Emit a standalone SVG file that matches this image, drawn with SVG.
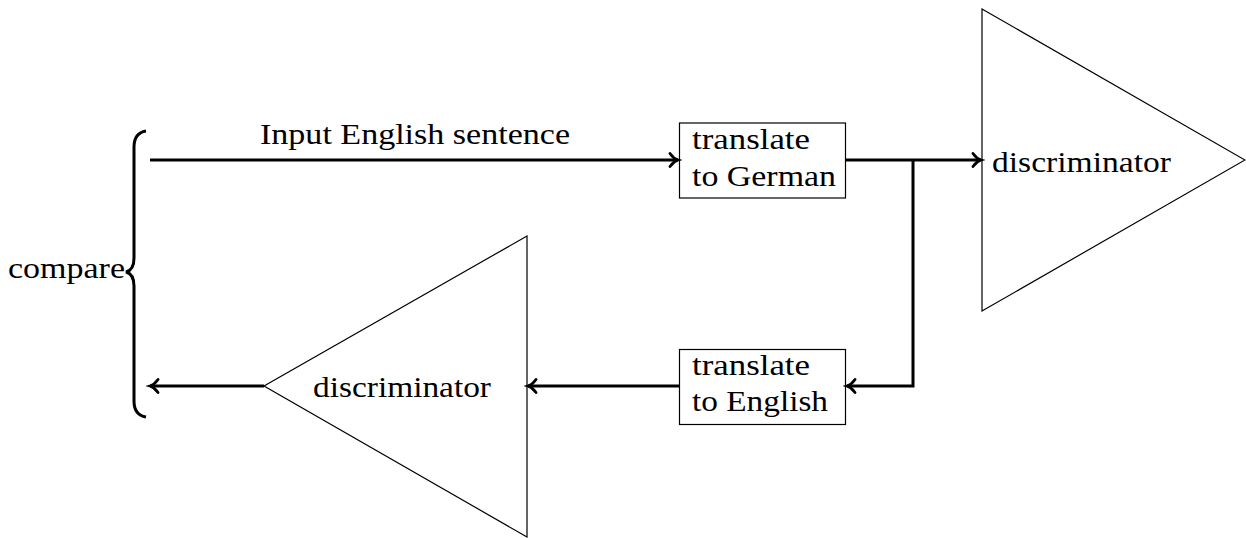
<svg xmlns="http://www.w3.org/2000/svg" width="1246" height="538" viewBox="0 0 1246 538">
<style>
text{font-family:'Liberation Serif','Tinos','Times New Roman',Times,serif;font-size:29px;fill:#000}
.shape{fill:none;stroke:#000;stroke-width:1.2}
.conn{fill:none;stroke:#000;stroke-width:3}
</style>
<defs>
<marker id="arr" markerWidth="14" markerHeight="16" refX="10" refY="8" orient="auto" markerUnits="userSpaceOnUse">
<path d="M2,1.5 Q5.5,6.5 10,8 Q5.5,9.5 2,14.5" fill="none" stroke="#000" stroke-width="2.8" stroke-linecap="round"/>
</marker>
</defs>
<rect width="1246" height="538" fill="#fff"/>
<g id="brace">
<path d="M146,131 Q134,133 134,147 L134,258 Q134,270 126,272 Q134,274 134,286 L134,401 Q134,415 146,417" fill="none" stroke="#000" stroke-width="3"/>
<text x="8" y="278" textLength="117" lengthAdjust="spacingAndGlyphs">compare</text>
</g>
<g id="label-input">
<text x="260" y="144" textLength="310" lengthAdjust="spacingAndGlyphs">Input English sentence</text>
</g>
<g id="box-german">
<rect class="shape" x="679.5" y="123" width="166" height="75"/>
<text x="692" y="149" textLength="118" lengthAdjust="spacingAndGlyphs">translate</text>
<text x="692" y="186" textLength="144" lengthAdjust="spacingAndGlyphs">to German</text>
</g>
<g id="box-english">
<rect class="shape" x="679.5" y="349.5" width="166" height="75"/>
<text x="692" y="375" textLength="118" lengthAdjust="spacingAndGlyphs">translate</text>
<text x="692" y="411" textLength="136" lengthAdjust="spacingAndGlyphs">to English</text>
</g>
<g id="disc-right">
<polygon class="shape" points="982,9 1245,160 982,311"/>
<text x="992" y="172" textLength="179" lengthAdjust="spacingAndGlyphs">discriminator</text>
</g>
<g id="disc-left">
<polygon class="shape" points="527,236 264,386 527,537"/>
<text x="313" y="397" textLength="178" lengthAdjust="spacingAndGlyphs">discriminator</text>
</g>
<g id="connectors">
<path class="conn" d="M150,160 L678,160" marker-end="url(#arr)"/>
<path class="conn" d="M846,160 L981,160" marker-end="url(#arr)"/>
<path class="conn" d="M913,160 L913,386 L847,386" marker-end="url(#arr)"/>
<path class="conn" d="M679,386 L528,386" marker-end="url(#arr)"/>
<path class="conn" d="M264,386 L150,386" marker-end="url(#arr)"/>
</g>
</svg>
